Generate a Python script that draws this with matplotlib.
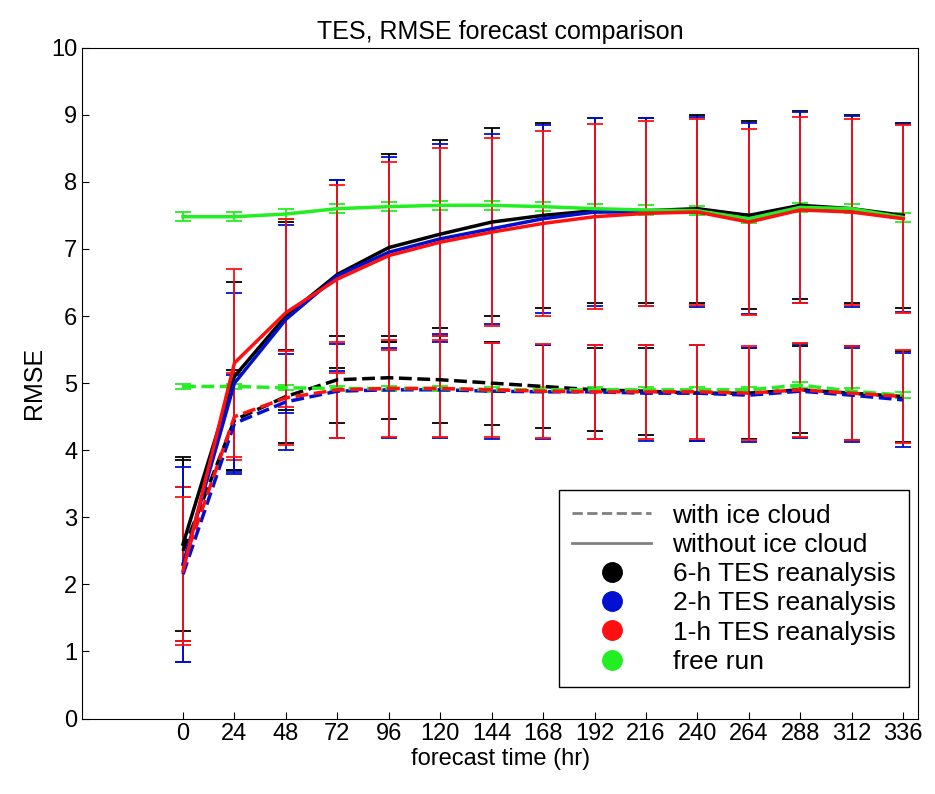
import numpy as np
import matplotlib.pyplot as plt
from matplotlib.lines import Line2D

plt.rcParams['font.family'] = ['Liberation Sans', 'DejaVu Sans']

hours = [0, 24, 48, 72, 96, 120, 144, 168, 192, 216, 240, 264, 288, 312, 336]

# without ice cloud (solid)
no_ice = {
    'black': [2.6, 5.1, 6.0, 6.62, 7.02, 7.22, 7.4, 7.5, 7.57, 7.57, 7.6, 7.5, 7.65, 7.6, 7.5],
    'blue':  [2.3, 5.0, 5.95, 6.6, 6.95, 7.15, 7.3, 7.45, 7.55, 7.55, 7.55, 7.45, 7.62, 7.56, 7.46],
    'red':   [2.2, 5.3, 6.05, 6.55, 6.9, 7.1, 7.25, 7.38, 7.48, 7.53, 7.55, 7.4, 7.58, 7.55, 7.45],
    'lime':  [7.48, 7.48, 7.52, 7.6, 7.63, 7.65, 7.65, 7.63, 7.6, 7.58, 7.57, 7.45, 7.62, 7.6, 7.47],
}
no_ice_err = {
    'black': [1.3, 1.4, 1.4, 1.4, 1.4, 1.4, 1.4, 1.38, 1.38, 1.38, 1.4, 1.4, 1.4, 1.4, 1.38],
    'blue':  [1.45, 1.35, 1.4, 1.42, 1.42, 1.42, 1.42, 1.4, 1.4, 1.4, 1.42, 1.42, 1.42, 1.42, 1.4],
    'red':   [1.1, 1.4, 1.4, 1.4, 1.4, 1.4, 1.4, 1.38, 1.38, 1.38, 1.38, 1.38, 1.38, 1.38, 1.4],
    'lime':  [0.07] * 15,
}
# with ice cloud (dashed)
ice = {
    'black': [2.5, 4.45, 4.8, 5.05, 5.08, 5.05, 5.0, 4.95, 4.9, 4.88, 4.85, 4.85, 4.9, 4.85, 4.8],
    'blue':  [2.15, 4.4, 4.72, 4.88, 4.9, 4.9, 4.88, 4.87, 4.87, 4.85, 4.85, 4.82, 4.88, 4.82, 4.75],
    'red':   [2.3, 4.5, 4.78, 4.9, 4.92, 4.92, 4.9, 4.88, 4.87, 4.87, 4.87, 4.85, 4.9, 4.85, 4.8],
    'lime':  [4.95, 4.95, 4.93, 4.92, 4.92, 4.92, 4.9, 4.9, 4.9, 4.9, 4.9, 4.9, 4.97, 4.88, 4.82],
}
ice_err = {
    'black': [1.35, 0.75, 0.7, 0.65, 0.62, 0.65, 0.62, 0.62, 0.62, 0.65, 0.72, 0.68, 0.65, 0.7, 0.68],
    'blue':  [1.3, 0.72, 0.72, 0.7, 0.72, 0.72, 0.72, 0.7, 0.7, 0.72, 0.72, 0.7, 0.7, 0.7, 0.7],
    'red':   [1.15, 0.65, 0.7, 0.72, 0.72, 0.72, 0.7, 0.7, 0.7, 0.7, 0.7, 0.7, 0.7, 0.7, 0.7],
    'lime':  [0.04] * 15,
}
labels = {'black': '6-h TES reanalysis', 'blue': '2-h TES reanalysis',
          'red': '1-h TES reanalysis', 'lime': 'free run'}
colors = {'black': 'black', 'blue': '#0010d0', 'red': '#ff1010', 'lime': '#22ee22'}

fig, ax = plt.subplots(figsize=(9.35, 7.94), dpi=100)
fig.subplots_adjust(left=0.088, right=0.982, top=0.94, bottom=0.095)

for k in ['black', 'blue', 'lime', 'red']:
    ax.errorbar(hours, ice[k], yerr=ice_err[k], color=colors[k], ls='--', lw=2.5,
                capsize=6, elinewidth=1.3, capthick=1.3)
for k in ['black', 'blue', 'lime', 'red']:
    ax.errorbar(hours, no_ice[k], yerr=no_ice_err[k], color=colors[k], ls='-', lw=2.5,
                capsize=6, elinewidth=1.3, capthick=1.3)

ax.set_xlim(-47, 343)
ax.set_ylim(0, 10)
ax.set_xticks(hours)
ax.set_yticks(range(0, 11))
ax.tick_params(direction='in', labelsize=17, length=5)
ax.set_title('TES, RMSE forecast comparison', fontsize=18)
ax.set_xlabel('forecast time (hr)', fontsize=17, labelpad=2)
ax.set_ylabel('RMSE', fontsize=18)

handles = [Line2D([], [], color='gray', ls='--', lw=2),
           Line2D([], [], color='gray', ls='-', lw=2)]
names = ['with ice cloud', 'without ice cloud']
for k in ['black', 'blue', 'red', 'lime']:
    handles.append(Line2D([], [], color=colors[k], marker='o', ls='none', markersize=14))
    names.append(labels[k])
leg = ax.legend(handles, names, loc='lower right', bbox_to_anchor=(0.998, 0.035),
                fontsize=19, fancybox=False, framealpha=1, edgecolor='black',
                borderpad=0.5, labelspacing=0.2, handlelength=3.0, borderaxespad=0.3)

plt.savefig('out.png')
